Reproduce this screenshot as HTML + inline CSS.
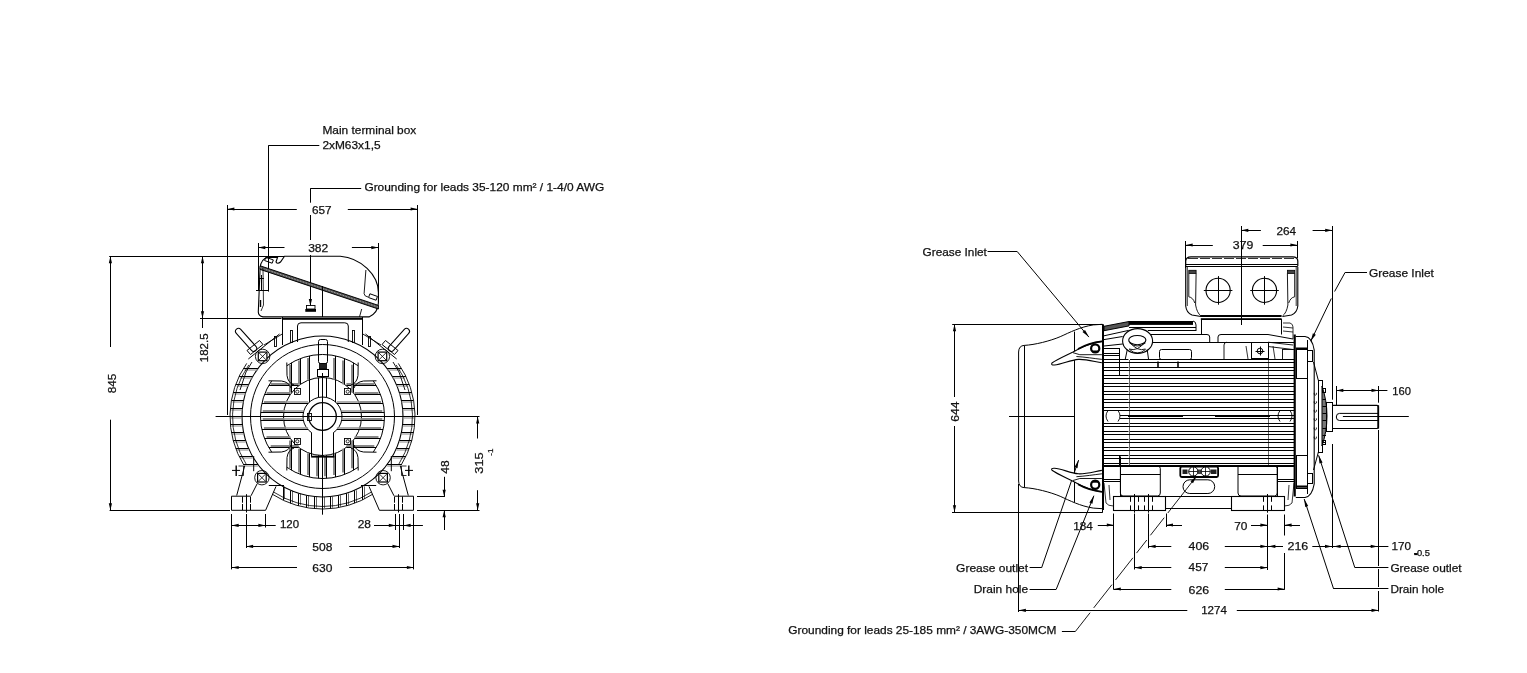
<!DOCTYPE html>
<html><head><meta charset="utf-8"><style>
html,body{margin:0;padding:0;background:#fff;}
svg{display:block;filter:grayscale(1);}
text{font-family:"Liberation Sans",sans-serif;fill:#111;stroke:#111;stroke-width:0.25px;}
</style></head><body>
<svg width="1527" height="673" viewBox="0 0 1527 673">
<rect width="1527" height="673" fill="#fff"/>
<g stroke="#000" fill="none" stroke-linecap="butt">
<text x="322.4" y="133.5" font-size="11.2" text-anchor="start" textLength="93.9" lengthAdjust="spacingAndGlyphs" >Main terminal box</text>
<text x="322.4" y="148.6" font-size="11.2" text-anchor="start" textLength="58.2" lengthAdjust="spacingAndGlyphs" >2xM63x1,5</text>
<line x1="268.3" y1="145.5" x2="319.3" y2="145.5" stroke-width="1.0" />
<line x1="268.5" y1="145.5" x2="268.5" y2="291.6" stroke-width="1.0" />
<text x="364.4" y="191.4" font-size="11.2" text-anchor="start" textLength="239.9" lengthAdjust="spacingAndGlyphs" >Grounding for leads 35-120 mm² / 1-4/0 AWG</text>
<line x1="310.4" y1="188.5" x2="361.2" y2="188.5" stroke-width="1.0" />
<line x1="310.5" y1="188.3" x2="310.5" y2="202.7" stroke-width="1.0" />
<line x1="310.5" y1="215.0" x2="310.5" y2="240.0" stroke-width="1.0" />
<line x1="310.5" y1="255.0" x2="310.5" y2="306.0" stroke-width="1.0" />
<polygon points="310.4,306.0 308.8,299.0 312.0,299.0" fill="#000" stroke="none"/>
<line x1="227.4" y1="209.5" x2="296.8" y2="209.5" stroke-width="1.0" />
<line x1="347.8" y1="209.5" x2="417.6" y2="209.5" stroke-width="1.0" />
<polygon points="227.4,209.0 234.4,207.4 234.4,210.6" fill="#000" stroke="none"/>
<polygon points="417.6,209.0 410.6,207.4 410.6,210.6" fill="#000" stroke="none"/>
<line x1="227.5" y1="205.0" x2="227.5" y2="415.0" stroke-width="1.0" />
<line x1="417.5" y1="205.0" x2="417.5" y2="415.0" stroke-width="1.0" />
<text x="321.8" y="213.8" font-size="11.3" text-anchor="middle" textLength="19.6" lengthAdjust="spacingAndGlyphs" >657</text>
<line x1="258.3" y1="247.5" x2="284.5" y2="247.5" stroke-width="1.0" />
<line x1="351.9" y1="247.5" x2="378.3" y2="247.5" stroke-width="1.0" />
<polygon points="258.3,247.6 265.3,246.0 265.3,249.2" fill="#000" stroke="none"/>
<polygon points="378.3,247.6 371.3,246.0 371.3,249.2" fill="#000" stroke="none"/>
<line x1="258.5" y1="243.0" x2="258.5" y2="290.0" stroke-width="1.0" />
<line x1="378.5" y1="243.0" x2="378.5" y2="302.0" stroke-width="1.0" />
<text x="318.2" y="251.9" font-size="11.3" text-anchor="middle" textLength="20.1" lengthAdjust="spacingAndGlyphs" >382</text>
<line x1="109.2" y1="256.5" x2="284.0" y2="256.5" stroke-width="1.0" />
<line x1="110.5" y1="256.2" x2="110.5" y2="347.0" stroke-width="1.0" />
<line x1="110.5" y1="419.7" x2="110.5" y2="510.3" stroke-width="1.0" />
<polygon points="110.4,256.2 108.8,263.2 112.0,263.2" fill="#000" stroke="none"/>
<polygon points="110.4,510.3 108.8,503.3 112.0,503.3" fill="#000" stroke="none"/>
<line x1="109.6" y1="510.5" x2="230.0" y2="510.5" stroke-width="1.0" />
<text x="115.8" y="383.4" font-size="11.3" text-anchor="middle" textLength="19.6" lengthAdjust="spacingAndGlyphs" transform="rotate(-90 115.8 383.4)" >845</text>
<line x1="202.5" y1="256.2" x2="202.5" y2="328.0" stroke-width="1.0" />
<polygon points="202.5,256.2 200.9,263.2 204.1,263.2" fill="#000" stroke="none"/>
<polygon points="202.5,318.2 200.9,311.2 204.1,311.2" fill="#000" stroke="none"/>
<line x1="200.0" y1="318.5" x2="281.5" y2="318.5" stroke-width="1.0" />
<text x="207.8" y="347.8" font-size="11.3" text-anchor="middle" textLength="28.7" lengthAdjust="spacingAndGlyphs" transform="rotate(-90 207.8 347.8)" >182.5</text>
<line x1="215.6" y1="416.5" x2="479.5" y2="416.5" stroke-width="1.0" />
<line x1="322.5" y1="373.0" x2="322.5" y2="514.7" stroke-width="1.0" />
<line x1="477.5" y1="416.6" x2="477.5" y2="438.5" stroke-width="1.0" />
<line x1="477.5" y1="490.2" x2="477.5" y2="510.3" stroke-width="1.0" />
<polygon points="477.7,416.6 476.1,423.6 479.3,423.6" fill="#000" stroke="none"/>
<polygon points="477.7,510.3 476.1,503.3 479.3,503.3" fill="#000" stroke="none"/>
<line x1="417.0" y1="510.5" x2="479.5" y2="510.5" stroke-width="1.0" />
<text x="483.0" y="463.0" font-size="11.3" text-anchor="middle" textLength="21.4" lengthAdjust="spacingAndGlyphs" transform="rotate(-90 483.0 463.0)" >315</text>
<text x="493.0" y="452.2" font-size="8" text-anchor="middle" transform="rotate(-90 493.0 452.2)" >-1</text>
<line x1="417.0" y1="496.5" x2="444.8" y2="496.5" stroke-width="1.0" />
<line x1="444.5" y1="476.8" x2="444.5" y2="496.8" stroke-width="1.0" />
<line x1="444.5" y1="510.3" x2="444.5" y2="530.0" stroke-width="1.0" />
<polygon points="444.2,496.8 442.6,489.8 445.8,489.8" fill="#000" stroke="none"/>
<polygon points="444.2,510.3 442.6,517.3 445.8,517.3" fill="#000" stroke="none"/>
<text x="448.6" y="467.0" font-size="11.3" text-anchor="middle" textLength="13.4" lengthAdjust="spacingAndGlyphs" transform="rotate(-90 448.6 467.0)" >48</text>
<line x1="231.7" y1="525.5" x2="275.7" y2="525.5" stroke-width="1.0" />
<polygon points="231.7,525.4 238.7,523.8 238.7,527.0" fill="#000" stroke="none"/>
<polygon points="265.4,525.4 258.4,523.8 258.4,527.0" fill="#000" stroke="none"/>
<line x1="231.5" y1="514.0" x2="231.5" y2="569.4" stroke-width="1.0" />
<line x1="246.5" y1="514.0" x2="246.5" y2="548.0" stroke-width="1.0" />
<line x1="265.5" y1="514.0" x2="265.5" y2="527.5" stroke-width="1.0" />
<text x="280.0" y="527.9" font-size="11.3" text-anchor="start" textLength="19.1" lengthAdjust="spacingAndGlyphs" >120</text>
<line x1="374.0" y1="525.5" x2="422.9" y2="525.5" stroke-width="1.0" />
<polygon points="395.8,525.4 388.8,523.8 388.8,527.0" fill="#000" stroke="none"/>
<polygon points="403.6,525.4 410.6,523.8 410.6,527.0" fill="#000" stroke="none"/>
<line x1="395.5" y1="514.0" x2="395.5" y2="530.0" stroke-width="1.0" />
<line x1="399.5" y1="514.0" x2="399.5" y2="548.0" stroke-width="1.0" />
<line x1="403.5" y1="514.0" x2="403.5" y2="530.0" stroke-width="1.0" />
<line x1="413.5" y1="514.0" x2="413.5" y2="569.4" stroke-width="1.0" />
<text x="357.7" y="527.6" font-size="11.3" text-anchor="start" textLength="13.3" lengthAdjust="spacingAndGlyphs" >28</text>
<line x1="246.1" y1="546.5" x2="297.0" y2="546.5" stroke-width="1.0" />
<line x1="349.3" y1="546.5" x2="399.5" y2="546.5" stroke-width="1.0" />
<polygon points="246.1,546.4 253.1,544.8 253.1,548.0" fill="#000" stroke="none"/>
<polygon points="399.5,546.4 392.5,544.8 392.5,548.0" fill="#000" stroke="none"/>
<text x="322.4" y="550.6" font-size="11.3" text-anchor="middle" textLength="20.1" lengthAdjust="spacingAndGlyphs" >508</text>
<line x1="231.7" y1="567.5" x2="297.0" y2="567.5" stroke-width="1.0" />
<line x1="349.3" y1="567.5" x2="413.9" y2="567.5" stroke-width="1.0" />
<polygon points="231.7,567.5 238.7,565.9 238.7,569.1" fill="#000" stroke="none"/>
<polygon points="413.9,567.5 406.9,565.9 406.9,569.1" fill="#000" stroke="none"/>
<text x="322.4" y="571.6" font-size="11.3" text-anchor="middle" textLength="20.1" lengthAdjust="spacingAndGlyphs" >630</text>
<circle cx="322.5" cy="416.5" r="80.5" stroke-width="1.1"/>
<circle cx="322.5" cy="416.5" r="72.0" stroke-width="1.0"/>
<circle cx="322.5" cy="416.5" r="39.0" stroke-width="1.0"/>
<path d="M311.6,432.7 A19.5,19.5 0 1 1 333.4,432.7" stroke-width="1.0" fill="none"/>
<circle cx="322.5" cy="416.5" r="13.8" stroke-width="1.3"/>
<path d="M271.7,452.1 A62,62 0 0 1 271.7,380.9" stroke-width="1.0" fill="none"/>
<path d="M373.3,380.9 A62,62 0 0 1 373.3,452.1" stroke-width="1.0" fill="none"/>
<path d="M286.9,365.7 A62,62 0 0 1 358.1,365.7" stroke-width="1.0" fill="none"/>
<path d="M358.1,467.3 A62,62 0 0 1 286.9,467.3" stroke-width="1.0" fill="none"/>
<line x1="298.6" y1="385.5" x2="268.7" y2="385.5" stroke-width="1.0" />
<line x1="298.6" y1="384.0" x2="270.7" y2="384.0" stroke="#888" stroke-width="2"/>
<line x1="346.4" y1="385.5" x2="376.3" y2="385.5" stroke-width="1.0" />
<line x1="346.4" y1="384.0" x2="374.3" y2="384.0" stroke="#888" stroke-width="2"/>
<line x1="290.3" y1="394.5" x2="264.5" y2="394.5" stroke-width="1.0" />
<line x1="290.3" y1="393.0" x2="266.5" y2="393.0" stroke="#888" stroke-width="2"/>
<line x1="354.7" y1="394.5" x2="380.5" y2="394.5" stroke-width="1.0" />
<line x1="354.7" y1="393.0" x2="378.5" y2="393.0" stroke="#888" stroke-width="2"/>
<line x1="285.8" y1="403.5" x2="261.9" y2="403.5" stroke-width="1.0" />
<line x1="285.8" y1="402.0" x2="263.9" y2="402.0" stroke="#888" stroke-width="2"/>
<line x1="308.1" y1="403.5" x2="285.8" y2="403.5" stroke-width="1.0" />
<line x1="308.1" y1="402.0" x2="285.8" y2="402.0" stroke="#999" stroke-width="1.6"/>
<line x1="359.2" y1="403.5" x2="383.1" y2="403.5" stroke-width="1.0" />
<line x1="359.2" y1="402.0" x2="381.1" y2="402.0" stroke="#888" stroke-width="2"/>
<line x1="336.9" y1="403.5" x2="359.2" y2="403.5" stroke-width="1.0" />
<line x1="336.9" y1="402.0" x2="359.2" y2="402.0" stroke="#999" stroke-width="1.6"/>
<line x1="283.7" y1="412.5" x2="260.7" y2="412.5" stroke-width="1.0" />
<line x1="283.7" y1="411.0" x2="262.7" y2="411.0" stroke="#888" stroke-width="2"/>
<line x1="303.5" y1="412.5" x2="283.7" y2="412.5" stroke-width="1.0" />
<line x1="303.5" y1="411.0" x2="283.7" y2="411.0" stroke="#999" stroke-width="1.6"/>
<line x1="361.3" y1="412.5" x2="384.3" y2="412.5" stroke-width="1.0" />
<line x1="361.3" y1="411.0" x2="382.3" y2="411.0" stroke="#888" stroke-width="2"/>
<line x1="341.5" y1="412.5" x2="361.3" y2="412.5" stroke-width="1.0" />
<line x1="341.5" y1="411.0" x2="361.3" y2="411.0" stroke="#999" stroke-width="1.6"/>
<line x1="283.7" y1="420.5" x2="260.7" y2="420.5" stroke-width="1.0" />
<line x1="283.7" y1="419.0" x2="262.7" y2="419.0" stroke="#888" stroke-width="2"/>
<line x1="303.5" y1="420.5" x2="283.7" y2="420.5" stroke-width="1.0" />
<line x1="303.5" y1="419.0" x2="283.7" y2="419.0" stroke="#999" stroke-width="1.6"/>
<line x1="361.3" y1="420.5" x2="384.3" y2="420.5" stroke-width="1.0" />
<line x1="361.3" y1="419.0" x2="382.3" y2="419.0" stroke="#888" stroke-width="2"/>
<line x1="341.5" y1="420.5" x2="361.3" y2="420.5" stroke-width="1.0" />
<line x1="341.5" y1="419.0" x2="361.3" y2="419.0" stroke="#999" stroke-width="1.6"/>
<line x1="285.8" y1="429.5" x2="261.9" y2="429.5" stroke-width="1.0" />
<line x1="285.8" y1="428.0" x2="263.9" y2="428.0" stroke="#888" stroke-width="2"/>
<line x1="308.1" y1="429.5" x2="285.8" y2="429.5" stroke-width="1.0" />
<line x1="308.1" y1="428.0" x2="285.8" y2="428.0" stroke="#999" stroke-width="1.6"/>
<line x1="359.2" y1="429.5" x2="383.1" y2="429.5" stroke-width="1.0" />
<line x1="359.2" y1="428.0" x2="381.1" y2="428.0" stroke="#888" stroke-width="2"/>
<line x1="336.9" y1="429.5" x2="359.2" y2="429.5" stroke-width="1.0" />
<line x1="336.9" y1="428.0" x2="359.2" y2="428.0" stroke="#999" stroke-width="1.6"/>
<line x1="290.3" y1="438.5" x2="264.5" y2="438.5" stroke-width="1.0" />
<line x1="290.3" y1="437.0" x2="266.5" y2="437.0" stroke="#888" stroke-width="2"/>
<line x1="354.7" y1="438.5" x2="380.5" y2="438.5" stroke-width="1.0" />
<line x1="354.7" y1="437.0" x2="378.5" y2="437.0" stroke="#888" stroke-width="2"/>
<line x1="298.6" y1="447.5" x2="268.7" y2="447.5" stroke-width="1.0" />
<line x1="298.6" y1="446.0" x2="270.7" y2="446.0" stroke="#888" stroke-width="2"/>
<line x1="346.4" y1="447.5" x2="376.3" y2="447.5" stroke-width="1.0" />
<line x1="346.4" y1="446.0" x2="374.3" y2="446.0" stroke="#888" stroke-width="2"/>
<line x1="291.5" y1="392.6" x2="291.5" y2="362.7" stroke-width="1.0" />
<line x1="290.0" y1="392.6" x2="290.0" y2="364.7" stroke="#888" stroke-width="2"/>
<line x1="291.5" y1="440.4" x2="291.5" y2="470.3" stroke-width="1.0" />
<line x1="290.0" y1="440.4" x2="290.0" y2="468.3" stroke="#888" stroke-width="2"/>
<line x1="300.5" y1="384.3" x2="300.5" y2="358.5" stroke-width="1.0" />
<line x1="299.0" y1="384.3" x2="299.0" y2="360.5" stroke="#888" stroke-width="2"/>
<line x1="300.5" y1="448.7" x2="300.5" y2="474.5" stroke-width="1.0" />
<line x1="299.0" y1="448.7" x2="299.0" y2="472.5" stroke="#888" stroke-width="2"/>
<line x1="309.5" y1="379.8" x2="309.5" y2="355.9" stroke-width="1.0" />
<line x1="308.0" y1="379.8" x2="308.0" y2="357.9" stroke="#888" stroke-width="2"/>
<line x1="309.5" y1="402.1" x2="309.5" y2="379.8" stroke-width="1.0" />
<line x1="309.5" y1="453.2" x2="309.5" y2="477.1" stroke-width="1.0" />
<line x1="308.0" y1="453.2" x2="308.0" y2="475.1" stroke="#888" stroke-width="2"/>
<line x1="318.5" y1="397.5" x2="318.5" y2="377.7" stroke-width="1.0" />
<line x1="318.5" y1="455.3" x2="318.5" y2="478.3" stroke-width="1.0" />
<line x1="317.0" y1="455.3" x2="317.0" y2="476.3" stroke="#888" stroke-width="2"/>
<line x1="326.5" y1="397.5" x2="326.5" y2="377.7" stroke-width="1.0" />
<line x1="326.5" y1="455.3" x2="326.5" y2="478.3" stroke-width="1.0" />
<line x1="325.0" y1="455.3" x2="325.0" y2="476.3" stroke="#888" stroke-width="2"/>
<line x1="335.5" y1="379.8" x2="335.5" y2="355.9" stroke-width="1.0" />
<line x1="334.0" y1="379.8" x2="334.0" y2="357.9" stroke="#888" stroke-width="2"/>
<line x1="335.5" y1="402.1" x2="335.5" y2="379.8" stroke-width="1.0" />
<line x1="335.5" y1="453.2" x2="335.5" y2="477.1" stroke-width="1.0" />
<line x1="334.0" y1="453.2" x2="334.0" y2="475.1" stroke="#888" stroke-width="2"/>
<line x1="344.5" y1="384.3" x2="344.5" y2="358.5" stroke-width="1.0" />
<line x1="343.0" y1="384.3" x2="343.0" y2="360.5" stroke="#888" stroke-width="2"/>
<line x1="344.5" y1="448.7" x2="344.5" y2="474.5" stroke-width="1.0" />
<line x1="343.0" y1="448.7" x2="343.0" y2="472.5" stroke="#888" stroke-width="2"/>
<line x1="353.5" y1="392.6" x2="353.5" y2="362.7" stroke-width="1.0" />
<line x1="352.0" y1="392.6" x2="352.0" y2="364.7" stroke="#888" stroke-width="2"/>
<line x1="353.5" y1="440.4" x2="353.5" y2="470.3" stroke-width="1.0" />
<line x1="352.0" y1="440.4" x2="352.0" y2="468.3" stroke="#888" stroke-width="2"/>
<path d="M376.5,452.2 L363.5,452.0 Q356.0,451.0 354.0,445.0" stroke-width="1.0" fill="none"/>
<path d="M358.2,470.5 L358.0,457.5 Q357.0,450.0 351.0,448.0" stroke-width="1.0" fill="none"/>
<path d="M376.5,380.8 L363.5,381.0 Q356.0,382.0 354.0,388.0" stroke-width="1.0" fill="none"/>
<path d="M358.2,362.5 L358.0,375.5 Q357.0,383.0 351.0,385.0" stroke-width="1.0" fill="none"/>
<path d="M268.5,452.2 L281.5,452.0 Q289.0,451.0 291.0,445.0" stroke-width="1.0" fill="none"/>
<path d="M286.8,470.5 L287.0,457.5 Q288.0,450.0 294.0,448.0" stroke-width="1.0" fill="none"/>
<path d="M268.5,380.8 L281.5,381.0 Q289.0,382.0 291.0,388.0" stroke-width="1.0" fill="none"/>
<path d="M286.8,362.5 L287.0,375.5 Q288.0,383.0 294.0,385.0" stroke-width="1.0" fill="none"/>
<rect x="294.5" y="388.5" width="6.0" height="6.0" rx="0" stroke-width="0.9"/>
<circle cx="297.3" cy="391.7" r="1.6" stroke-width="0.8"/>
<rect x="294.5" y="438.5" width="6.0" height="6.0" rx="0" stroke-width="0.9"/>
<circle cx="297.3" cy="441.3" r="1.6" stroke-width="0.8"/>
<rect x="344.5" y="388.5" width="6.0" height="6.0" rx="0" stroke-width="0.9"/>
<circle cx="347.7" cy="391.7" r="1.6" stroke-width="0.8"/>
<rect x="344.5" y="438.5" width="6.0" height="6.0" rx="0" stroke-width="0.9"/>
<circle cx="347.7" cy="441.3" r="1.6" stroke-width="0.8"/>
<rect x="318.5" y="339.5" width="9.0" height="24.0" rx="2" stroke-width="1.0"/>
<rect x="319.5" y="363.5" width="7" height="5.5" fill="#222" stroke="#000" stroke-width="0.8"/>
<rect x="317.5" y="369.5" width="11.0" height="7.0" rx="0" stroke-width="1.0"/>
<rect x="307.5" y="413.5" width="4.0" height="7.0" rx="0" stroke-width="0.9"/>
<line x1="311.5" y1="432.5" x2="311.5" y2="456.5" stroke-width="1.0" />
<line x1="333.5" y1="432.5" x2="333.5" y2="456.5" stroke-width="1.0" />
<rect x="311.2" y="455.8" width="23.2" height="1.8" fill="#000" stroke="none"/>
<line x1="243.4" y1="368.5" x2="257.9" y2="368.5" stroke-width="1.0" />
<line x1="244.4" y1="370.0" x2="257.9" y2="370.0" stroke="#999" stroke-width="1.2"/>
<line x1="401.6" y1="368.5" x2="387.1" y2="368.5" stroke-width="1.0" />
<line x1="400.6" y1="370.0" x2="387.1" y2="370.0" stroke="#999" stroke-width="1.2"/>
<line x1="239.1" y1="376.5" x2="252.6" y2="376.5" stroke-width="1.0" />
<line x1="240.1" y1="378.0" x2="252.6" y2="378.0" stroke="#999" stroke-width="1.2"/>
<line x1="405.9" y1="376.5" x2="392.4" y2="376.5" stroke-width="1.0" />
<line x1="404.9" y1="378.0" x2="392.4" y2="378.0" stroke="#999" stroke-width="1.2"/>
<line x1="235.7" y1="384.5" x2="248.6" y2="384.5" stroke-width="1.0" />
<line x1="236.7" y1="386.0" x2="248.6" y2="386.0" stroke="#999" stroke-width="1.2"/>
<line x1="409.3" y1="384.5" x2="396.4" y2="384.5" stroke-width="1.0" />
<line x1="408.3" y1="386.0" x2="396.4" y2="386.0" stroke="#999" stroke-width="1.2"/>
<line x1="233.2" y1="392.5" x2="245.7" y2="392.5" stroke-width="1.0" />
<line x1="234.2" y1="394.0" x2="245.7" y2="394.0" stroke="#999" stroke-width="1.2"/>
<line x1="411.8" y1="392.5" x2="399.3" y2="392.5" stroke-width="1.0" />
<line x1="410.8" y1="394.0" x2="399.3" y2="394.0" stroke="#999" stroke-width="1.2"/>
<line x1="231.4" y1="400.5" x2="243.6" y2="400.5" stroke-width="1.0" />
<line x1="232.4" y1="402.0" x2="243.6" y2="402.0" stroke="#999" stroke-width="1.2"/>
<line x1="413.6" y1="400.5" x2="401.4" y2="400.5" stroke-width="1.0" />
<line x1="412.6" y1="402.0" x2="401.4" y2="402.0" stroke="#999" stroke-width="1.2"/>
<line x1="230.3" y1="408.5" x2="242.4" y2="408.5" stroke-width="1.0" />
<line x1="231.3" y1="410.0" x2="242.4" y2="410.0" stroke="#999" stroke-width="1.2"/>
<line x1="414.7" y1="408.5" x2="402.6" y2="408.5" stroke-width="1.0" />
<line x1="413.7" y1="410.0" x2="402.6" y2="410.0" stroke="#999" stroke-width="1.2"/>
<line x1="230.0" y1="416.5" x2="242.0" y2="416.5" stroke-width="1.0" />
<line x1="231.0" y1="418.0" x2="242.0" y2="418.0" stroke="#999" stroke-width="1.2"/>
<line x1="415.0" y1="416.5" x2="403.0" y2="416.5" stroke-width="1.0" />
<line x1="414.0" y1="418.0" x2="403.0" y2="418.0" stroke="#999" stroke-width="1.2"/>
<line x1="230.3" y1="424.5" x2="242.4" y2="424.5" stroke-width="1.0" />
<line x1="231.3" y1="426.0" x2="242.4" y2="426.0" stroke="#999" stroke-width="1.2"/>
<line x1="414.7" y1="424.5" x2="402.6" y2="424.5" stroke-width="1.0" />
<line x1="413.7" y1="426.0" x2="402.6" y2="426.0" stroke="#999" stroke-width="1.2"/>
<line x1="231.4" y1="432.5" x2="243.6" y2="432.5" stroke-width="1.0" />
<line x1="232.4" y1="434.0" x2="243.6" y2="434.0" stroke="#999" stroke-width="1.2"/>
<line x1="413.6" y1="432.5" x2="401.4" y2="432.5" stroke-width="1.0" />
<line x1="412.6" y1="434.0" x2="401.4" y2="434.0" stroke="#999" stroke-width="1.2"/>
<line x1="233.2" y1="440.5" x2="245.7" y2="440.5" stroke-width="1.0" />
<line x1="234.2" y1="442.0" x2="245.7" y2="442.0" stroke="#999" stroke-width="1.2"/>
<line x1="411.8" y1="440.5" x2="399.3" y2="440.5" stroke-width="1.0" />
<line x1="410.8" y1="442.0" x2="399.3" y2="442.0" stroke="#999" stroke-width="1.2"/>
<line x1="235.7" y1="448.5" x2="248.6" y2="448.5" stroke-width="1.0" />
<line x1="236.7" y1="450.0" x2="248.6" y2="450.0" stroke="#999" stroke-width="1.2"/>
<line x1="409.3" y1="448.5" x2="396.4" y2="448.5" stroke-width="1.0" />
<line x1="408.3" y1="450.0" x2="396.4" y2="450.0" stroke="#999" stroke-width="1.2"/>
<line x1="239.1" y1="456.5" x2="252.6" y2="456.5" stroke-width="1.0" />
<line x1="240.1" y1="458.0" x2="252.6" y2="458.0" stroke="#999" stroke-width="1.2"/>
<line x1="405.9" y1="456.5" x2="392.4" y2="456.5" stroke-width="1.0" />
<line x1="404.9" y1="458.0" x2="392.4" y2="458.0" stroke="#999" stroke-width="1.2"/>
<line x1="243.4" y1="464.5" x2="257.9" y2="464.5" stroke-width="1.0" />
<line x1="244.4" y1="466.0" x2="257.9" y2="466.0" stroke="#999" stroke-width="1.2"/>
<line x1="401.6" y1="464.5" x2="387.1" y2="464.5" stroke-width="1.0" />
<line x1="400.6" y1="466.0" x2="387.1" y2="466.0" stroke="#999" stroke-width="1.2"/>
<path d="M244.1,465.5 A92.5,92.5 0 0 1 246.7,363.4" stroke-width="0.9" fill="none"/>
<path d="M246.2,464.2 A90.0,90.0 0 0 1 248.8,364.9" stroke-width="0.8" fill="none"/>
<path d="M398.3,363.4 A92.5,92.5 0 0 1 400.9,465.5" stroke-width="0.9" fill="none"/>
<path d="M396.2,364.9 A90.0,90.0 0 0 1 398.8,464.2" stroke-width="0.8" fill="none"/>
<path d="M372.9,494.1 A92.5,92.5 0 0 1 272.1,494.1" stroke-width="0.9" fill="none"/>
<path d="M371.5,492.0 A90.0,90.0 0 0 1 273.5,492.0" stroke-width="0.8" fill="none"/>
<line x1="283.5" y1="486.6" x2="283.5" y2="500.1" stroke-width="1.0" />
<line x1="284.5" y1="486.6" x2="284.5" y2="499.1" stroke-width="0.6" />
<line x1="290.5" y1="490.6" x2="290.5" y2="503.5" stroke-width="1.0" />
<line x1="292.5" y1="490.6" x2="292.5" y2="502.5" stroke-width="0.6" />
<line x1="298.5" y1="493.5" x2="298.5" y2="505.9" stroke-width="1.0" />
<line x1="300.5" y1="493.5" x2="300.5" y2="504.9" stroke-width="0.6" />
<line x1="306.5" y1="495.5" x2="306.5" y2="507.7" stroke-width="1.0" />
<line x1="308.5" y1="495.5" x2="308.5" y2="506.7" stroke-width="0.6" />
<line x1="314.5" y1="496.6" x2="314.5" y2="508.7" stroke-width="1.0" />
<line x1="316.5" y1="496.6" x2="316.5" y2="507.7" stroke-width="0.6" />
<line x1="322.5" y1="497.0" x2="322.5" y2="509.0" stroke-width="1.0" />
<line x1="324.5" y1="497.0" x2="324.5" y2="508.0" stroke-width="0.6" />
<line x1="330.5" y1="496.6" x2="330.5" y2="508.6" stroke-width="1.0" />
<line x1="332.5" y1="496.6" x2="332.5" y2="507.6" stroke-width="0.6" />
<line x1="338.5" y1="495.3" x2="338.5" y2="507.6" stroke-width="1.0" />
<line x1="340.5" y1="495.3" x2="340.5" y2="506.6" stroke-width="0.6" />
<line x1="346.5" y1="493.3" x2="346.5" y2="505.8" stroke-width="1.0" />
<line x1="348.5" y1="493.3" x2="348.5" y2="504.8" stroke-width="0.6" />
<line x1="354.5" y1="490.3" x2="354.5" y2="503.2" stroke-width="1.0" />
<line x1="356.5" y1="490.3" x2="356.5" y2="502.2" stroke-width="0.6" />
<line x1="362.5" y1="486.3" x2="362.5" y2="499.9" stroke-width="1.0" />
<line x1="364.5" y1="486.3" x2="364.5" y2="498.9" stroke-width="0.6" />
<polyline points="231.5,510.3 231.5,496.2 250.5,496.2" stroke-width="1.0"/>
<polyline points="231.5,510.3 265.6,510.3 276.0,486.4" stroke-width="1.0"/>
<polyline points="268.8,485.5 284.0,485.5" stroke-width="1.0"/>
<polyline points="236.7,495.5 244.7,465.9" stroke-width="1.0"/>
<polyline points="251.0,495.8 257.2,483.7" stroke-width="1.0"/>
<polyline points="253.7,456.0 253.7,471.2" stroke-width="1.0"/>
<line x1="242.5" y1="496.5" x2="242.5" y2="502.7" stroke-width="1.0" />
<line x1="242.5" y1="504.0" x2="242.5" y2="510.0" stroke-width="1.0" />
<line x1="250.5" y1="496.5" x2="250.5" y2="502.7" stroke-width="1.0" />
<line x1="250.5" y1="504.0" x2="250.5" y2="510.0" stroke-width="1.0" />
<line x1="246.5" y1="494.2" x2="246.5" y2="512.5" stroke-width="1.0" />
<polyline points="236.2,465.5 236.2,476.0" stroke-width="1.4"/>
<polyline points="232.0,470.4 240.0,470.4" stroke-width="1.0"/>
<path d="M238.5,466.0 243.5,466.0 243.5,475.5 238.5,475.5" stroke-width="0.8" fill="none"/>
<circle cx="262.6" cy="356.4" r="7.2" stroke-width="0.9"/>
<rect x="258.3" y="352.1" width="8.6" height="8.6" stroke-width="1.2" fill="#fff"/>
<line x1="259.0" y1="352.8" x2="266.2" y2="360.0" stroke-width="0.8" />
<line x1="259.0" y1="360.0" x2="266.2" y2="352.8" stroke-width="0.8" />
<circle cx="261.9" cy="477.7" r="7.2" stroke-width="0.9"/>
<rect x="257.6" y="473.4" width="8.6" height="8.6" stroke-width="1.2" fill="#fff"/>
<line x1="258.3" y1="474.1" x2="265.5" y2="481.3" stroke-width="0.8" />
<line x1="258.3" y1="481.3" x2="265.5" y2="474.1" stroke-width="0.8" />
<line x1="238.5" y1="331.4" x2="253.7" y2="348.3" stroke-width="7.0" stroke-linecap="round"/>
<line x1="238.5" y1="331.4" x2="253.7" y2="348.3" stroke-width="4.9" stroke="#fff" stroke-linecap="round"/>
<polygon points="247.0,350.5 259.5,340.5 263.0,344.5 250.5,354.5" stroke-width="1.0"/>
<polyline points="248.3,359.0 279.5,334.0" stroke-width="1.0"/>
<polyline points="264.0,345.0 283.0,333.5" stroke-width="0.9"/>
<polyline points="252.0,362.0 246.0,372.0 240.0,390.0" stroke-width="0.9"/>
<rect x="290.5" y="330.5" width="2.0" height="12.0" rx="0" stroke-width="0.9"/>
<rect x="274.5" y="336.5" width="2.0" height="10.0" rx="0" stroke-width="0.9"/>
<polyline points="413.5,510.3 413.5,496.2 394.5,496.2" stroke-width="1.0"/>
<polyline points="413.5,510.3 379.4,510.3 369.0,486.4" stroke-width="1.0"/>
<polyline points="376.2,485.5 361.0,485.5" stroke-width="1.0"/>
<polyline points="408.3,495.5 400.3,465.9" stroke-width="1.0"/>
<polyline points="394.0,495.8 387.8,483.7" stroke-width="1.0"/>
<polyline points="391.3,456.0 391.3,471.2" stroke-width="1.0"/>
<line x1="402.5" y1="496.5" x2="402.5" y2="502.7" stroke-width="1.0" />
<line x1="402.5" y1="504.0" x2="402.5" y2="510.0" stroke-width="1.0" />
<line x1="394.5" y1="496.5" x2="394.5" y2="502.7" stroke-width="1.0" />
<line x1="394.5" y1="504.0" x2="394.5" y2="510.0" stroke-width="1.0" />
<line x1="398.5" y1="494.2" x2="398.5" y2="512.5" stroke-width="1.0" />
<polyline points="408.8,465.5 408.8,476.0" stroke-width="1.4"/>
<polyline points="413.0,470.4 405.0,470.4" stroke-width="1.0"/>
<path d="M406.5,466.0 401.5,466.0 401.5,475.5 406.5,475.5" stroke-width="0.8" fill="none"/>
<circle cx="382.4" cy="356.4" r="7.2" stroke-width="0.9"/>
<rect x="378.1" y="352.1" width="8.6" height="8.6" stroke-width="1.2" fill="#fff"/>
<line x1="378.8" y1="352.8" x2="386.0" y2="360.0" stroke-width="0.8" />
<line x1="378.8" y1="360.0" x2="386.0" y2="352.8" stroke-width="0.8" />
<circle cx="383.1" cy="477.7" r="7.2" stroke-width="0.9"/>
<rect x="378.8" y="473.4" width="8.6" height="8.6" stroke-width="1.2" fill="#fff"/>
<line x1="379.5" y1="474.1" x2="386.7" y2="481.3" stroke-width="0.8" />
<line x1="379.5" y1="481.3" x2="386.7" y2="474.1" stroke-width="0.8" />
<line x1="406.5" y1="331.4" x2="391.3" y2="348.3" stroke-width="7.0" stroke-linecap="round"/>
<line x1="406.5" y1="331.4" x2="391.3" y2="348.3" stroke-width="4.9" stroke="#fff" stroke-linecap="round"/>
<polygon points="398.0,350.5 385.5,340.5 382.0,344.5 394.5,354.5" stroke-width="1.0"/>
<polyline points="396.7,359.0 365.5,334.0" stroke-width="1.0"/>
<polyline points="381.0,345.0 362.0,333.5" stroke-width="0.9"/>
<polyline points="393.0,362.0 399.0,372.0 405.0,390.0" stroke-width="0.9"/>
<rect x="352.5" y="330.5" width="2.0" height="12.0" rx="0" stroke-width="0.9"/>
<rect x="368.5" y="336.5" width="2.0" height="10.0" rx="0" stroke-width="0.9"/>
<line x1="282.5" y1="317.0" x2="282.5" y2="345.0" stroke-width="1.0" />
<line x1="362.5" y1="317.0" x2="362.5" y2="345.0" stroke-width="1.0" />
<path d="M297.5,342 L297.5,326 Q297.5,322.8 301,322.8 L344.8,322.8 Q348.3,322.8 348.3,326 L348.3,342" stroke-width="1.0" fill="none"/>
<path d="M263,316.9 Q258.3,316 258.3,312 L260.1,268 Q261,258.5 268,257.5 L277.5,257.5 L276,262 Q277.5,264.5 280.5,262 L284.5,256.3 L340.3,256.3 C361,258 378.4,275 378.4,292.5 L378.4,303 Q378,313 369,316.9 Z" stroke-width="1.1" fill="none"/>
<polygon points="260.1,265.8 378.4,305.4 378.4,309 260.1,269.4" fill="#555" stroke="#000" stroke-width="1"/>
<line x1="260.1" y1="267.6" x2="378.4" y2="307.2" stroke-width="0.6" stroke="#ccc" stroke-dasharray="1.5 1.5"/>
<rect x="282.7" y="317.8" width="79.6" height="2" fill="#000" stroke="none"/>
<path d="M365.9,270 L364.1,293.7 Q364.5,296.5 368,297" stroke-width="0.9" fill="none"/>
<path d="M361.7,309 L359.5,316.9" stroke-width="0.9" fill="none"/>
<rect x="369" y="295" width="8" height="4" transform="rotate(19.5 373 297)" stroke-width="0.9"/>
<rect x="265" y="258.5" width="8" height="3.5" transform="rotate(19.5 269 260.2)" stroke-width="0.9"/>
<line x1="256.0" y1="290.5" x2="269.0" y2="290.5" stroke-width="1.0" />
<line x1="261.5" y1="275.0" x2="261.5" y2="290.0" stroke-width="1.0" />
<line x1="259.0" y1="278.5" x2="264.0" y2="278.5" stroke-width="1.0" />
<path d="M263,268 L263.5,305 L261,311" stroke-width="0.8" fill="none"/>
<line x1="260.5" y1="300.0" x2="260.5" y2="307.0" stroke-width="1.4" />
<line x1="322.5" y1="286.0" x2="322.5" y2="317.0" stroke-width="1.0" />
<rect x="306.5" y="305.5" width="8.5" height="3.5" fill="#fff" stroke-width="0.9"/>
<rect x="305.3" y="309" width="10.7" height="2.8" fill="#000" stroke="none"/>
<text x="922.6" y="255.9" font-size="11.2" text-anchor="start" textLength="64.3" lengthAdjust="spacingAndGlyphs" >Grease Inlet</text>
<line x1="987.6" y1="251.5" x2="1017.0" y2="251.5" stroke-width="1.0" />
<line x1="1017.0" y1="251.3" x2="1088.9" y2="337.1" stroke-width="1.0" />
<polygon points="1088.9,337.1 1082.5,332.0 1085.0,329.9" fill="#000" stroke="none"/>
<text x="1369.0" y="277.1" font-size="11.2" text-anchor="start" textLength="64.9" lengthAdjust="spacingAndGlyphs" >Grease Inlet</text>
<line x1="1345.1" y1="272.5" x2="1367.0" y2="272.5" stroke-width="1.0" />
<line x1="1345.1" y1="272.4" x2="1334.6" y2="291.5" stroke-width="1.0" />
<line x1="1331.3" y1="298.5" x2="1310.8" y2="341.1" stroke-width="1.0" />
<polygon points="1310.8,341.1 1312.9,333.2 1315.8,334.7" fill="#000" stroke="none"/>
<text x="956.1" y="571.8" font-size="11.2" text-anchor="start" textLength="72.0" lengthAdjust="spacingAndGlyphs" >Grease outlet</text>
<line x1="1029.6" y1="567.5" x2="1041.6" y2="567.5" stroke-width="1.0" />
<line x1="1041.6" y1="567.8" x2="1078.6" y2="460.1" stroke-width="1.0" />
<polygon points="1078.6,460.1 1077.5,468.2 1074.5,467.1" fill="#000" stroke="none"/>
<text x="973.7" y="593.2" font-size="11.2" text-anchor="start" textLength="54.4" lengthAdjust="spacingAndGlyphs" >Drain hole</text>
<line x1="1029.6" y1="589.5" x2="1056.3" y2="589.5" stroke-width="1.0" />
<line x1="1056.3" y1="589.1" x2="1093.9" y2="495.7" stroke-width="1.0" />
<polygon points="1093.9,495.7 1092.4,503.7 1089.4,502.5" fill="#000" stroke="none"/>
<text x="1390.4" y="571.6" font-size="11.2" text-anchor="start" textLength="71.2" lengthAdjust="spacingAndGlyphs" >Grease outlet</text>
<line x1="1388.4" y1="567.5" x2="1354.8" y2="567.5" stroke-width="1.0" />
<line x1="1354.8" y1="567.6" x2="1318.6" y2="455.3" stroke-width="1.0" />
<polygon points="1318.6,455.3 1322.6,462.4 1319.5,463.4" fill="#000" stroke="none"/>
<text x="1390.4" y="592.6" font-size="11.2" text-anchor="start" textLength="53.7" lengthAdjust="spacingAndGlyphs" >Drain hole</text>
<line x1="1388.4" y1="588.5" x2="1333.6" y2="588.5" stroke-width="1.0" />
<line x1="1333.6" y1="588.9" x2="1304.2" y2="499.0" stroke-width="1.0" />
<polygon points="1304.2,499.0 1308.2,506.1 1305.2,507.1" fill="#000" stroke="none"/>
<text x="788.3" y="634.3" font-size="11.2" text-anchor="start" textLength="268.1" lengthAdjust="spacingAndGlyphs" >Grounding for leads 25-185 mm² / 3AWG-350MCM</text>
<line x1="1061.9" y1="631.5" x2="1075.2" y2="631.5" stroke-width="1.0" />
<line x1="1075.2" y1="631.7" x2="1090.1" y2="612.7" stroke-width="0.9" />
<line x1="1093.7" y1="607.9" x2="1112.0" y2="584.6" stroke-width="0.9" />
<line x1="1115.6" y1="579.9" x2="1132.9" y2="557.8" stroke-width="0.9" />
<line x1="1136.5" y1="553.1" x2="1146.8" y2="540.0" stroke-width="0.9" />
<line x1="1150.4" y1="535.3" x2="1164.2" y2="517.7" stroke-width="0.9" />
<line x1="1167.8" y1="513.0" x2="1196.7" y2="476.0" stroke-width="0.9" />
<polygon points="1196.7,476.0 1193.0,483.3 1190.5,481.3" fill="#000" stroke="none"/>
<line x1="952.2" y1="324.5" x2="1102.8" y2="324.5" stroke-width="1.0" />
<line x1="952.0" y1="512.5" x2="1102.8" y2="512.5" stroke-width="1.0" />
<line x1="954.5" y1="324.3" x2="954.5" y2="397.0" stroke-width="1.0" />
<line x1="954.5" y1="426.0" x2="954.5" y2="512.3" stroke-width="1.0" />
<polygon points="954.5,324.3 952.9,331.3 956.1,331.3" fill="#000" stroke="none"/>
<polygon points="954.5,512.3 952.9,505.3 956.1,505.3" fill="#000" stroke="none"/>
<text x="959.2" y="411.5" font-size="11.3" text-anchor="middle" textLength="20.3" lengthAdjust="spacingAndGlyphs" transform="rotate(-90 959.2 411.5)" >644</text>
<line x1="1185.7" y1="245.5" x2="1212.8" y2="245.5" stroke-width="1.0" />
<line x1="1262.7" y1="245.5" x2="1297.4" y2="245.5" stroke-width="1.0" />
<polygon points="1185.7,245.0 1192.7,243.4 1192.7,246.6" fill="#000" stroke="none"/>
<polygon points="1297.4,245.0 1290.4,243.4 1290.4,246.6" fill="#000" stroke="none"/>
<line x1="1185.5" y1="241.0" x2="1185.5" y2="268.0" stroke-width="1.0" />
<line x1="1297.5" y1="241.0" x2="1297.5" y2="258.0" stroke-width="1.0" />
<text x="1232.8" y="248.5" font-size="11.3" text-anchor="start" textLength="20.5" lengthAdjust="spacingAndGlyphs" >379</text>
<line x1="1241.3" y1="230.5" x2="1260.9" y2="230.5" stroke-width="1.0" />
<line x1="1312.6" y1="230.5" x2="1332.2" y2="230.5" stroke-width="1.0" />
<polygon points="1241.3,230.3 1248.3,228.7 1248.3,231.9" fill="#000" stroke="none"/>
<polygon points="1332.2,230.3 1325.2,228.7 1325.2,231.9" fill="#000" stroke="none"/>
<line x1="1241.5" y1="226.0" x2="1241.5" y2="325.0" stroke-width="1.0" />
<line x1="1332.5" y1="226.0" x2="1332.5" y2="399.7" stroke-width="1.0" />
<line x1="1332.5" y1="444.0" x2="1332.5" y2="548.0" stroke-width="1.0" />
<text x="1276.4" y="234.6" font-size="11.3" text-anchor="start" textLength="19.6" lengthAdjust="spacingAndGlyphs" >264</text>
<line x1="1336.3" y1="390.5" x2="1387.4" y2="390.5" stroke-width="1.0" />
<polygon points="1336.3,390.4 1343.3,388.8 1343.3,392.0" fill="#000" stroke="none"/>
<polygon points="1378.5,390.4 1371.5,388.8 1371.5,392.0" fill="#000" stroke="none"/>
<line x1="1336.5" y1="386.0" x2="1336.5" y2="405.0" stroke-width="1.0" />
<line x1="1378.5" y1="386.0" x2="1378.5" y2="402.7" stroke-width="1.0" />
<line x1="1378.5" y1="430.0" x2="1378.5" y2="566.0" stroke-width="1.0" />
<line x1="1378.5" y1="569.0" x2="1378.5" y2="587.0" stroke-width="1.0" />
<line x1="1378.5" y1="591.0" x2="1378.5" y2="611.5" stroke-width="1.0" />
<text x="1392.3" y="394.7" font-size="11.3" text-anchor="start" textLength="18.7" lengthAdjust="spacingAndGlyphs" >160</text>
<text x="1073.2" y="530.0" font-size="11.3" text-anchor="start" textLength="19.6" lengthAdjust="spacingAndGlyphs" >184</text>
<line x1="1097.8" y1="525.5" x2="1113.8" y2="525.5" stroke-width="1.0" />
<polygon points="1113.8,525.0 1106.8,523.4 1106.8,526.6" fill="#000" stroke="none"/>
<line x1="1166.0" y1="525.5" x2="1182.0" y2="525.5" stroke-width="1.0" />
<polygon points="1166.0,525.0 1173.0,523.4 1173.0,526.6" fill="#000" stroke="none"/>
<line x1="1113.5" y1="513.5" x2="1113.5" y2="589.7" stroke-width="1.0" />
<line x1="1166.5" y1="513.5" x2="1166.5" y2="527.0" stroke-width="1.0" />
<text x="1234.2" y="529.7" font-size="11.3" text-anchor="start" textLength="13.2" lengthAdjust="spacingAndGlyphs" >70</text>
<line x1="1251.0" y1="525.5" x2="1267.4" y2="525.5" stroke-width="1.0" />
<polygon points="1267.4,525.1 1260.4,523.5 1260.4,526.7" fill="#000" stroke="none"/>
<line x1="1284.6" y1="525.5" x2="1300.0" y2="525.5" stroke-width="1.0" />
<polygon points="1284.6,525.1 1291.6,523.5 1291.6,526.7" fill="#000" stroke="none"/>
<line x1="1267.5" y1="514.5" x2="1267.5" y2="570.0" stroke-width="1.0" />
<line x1="1284.5" y1="514.5" x2="1284.5" y2="535.5" stroke-width="1.0" />
<line x1="1284.5" y1="553.0" x2="1284.5" y2="589.7" stroke-width="1.0" />
<polygon points="1268.4,546.4 1275.4,544.8 1275.4,548.0" fill="#000" stroke="none"/>
<line x1="1148.5" y1="513.5" x2="1148.5" y2="548.2" stroke-width="1.0" />
<line x1="1134.5" y1="513.5" x2="1134.5" y2="569.5" stroke-width="1.0" />
<line x1="1148.6" y1="546.5" x2="1171.3" y2="546.5" stroke-width="1.0" />
<polygon points="1148.6,546.4 1155.6,544.8 1155.6,548.0" fill="#000" stroke="none"/>
<line x1="1224.8" y1="546.5" x2="1283.0" y2="546.5" stroke-width="1.0" />
<polygon points="1267.4,546.4 1260.4,544.8 1260.4,548.0" fill="#000" stroke="none"/>
<text x="1188.6" y="550.2" font-size="11.3" text-anchor="start" textLength="20.6" lengthAdjust="spacingAndGlyphs" >406</text>
<line x1="1134.7" y1="567.5" x2="1171.3" y2="567.5" stroke-width="1.0" />
<polygon points="1134.7,567.7 1141.7,566.1 1141.7,569.3" fill="#000" stroke="none"/>
<line x1="1224.8" y1="567.5" x2="1267.4" y2="567.5" stroke-width="1.0" />
<polygon points="1267.4,567.7 1260.4,566.1 1260.4,569.3" fill="#000" stroke="none"/>
<text x="1188.6" y="571.0" font-size="11.3" text-anchor="start" textLength="19.8" lengthAdjust="spacingAndGlyphs" >457</text>
<line x1="1113.8" y1="589.5" x2="1171.3" y2="589.5" stroke-width="1.0" />
<polygon points="1113.8,589.0 1120.8,587.4 1120.8,590.6" fill="#000" stroke="none"/>
<line x1="1224.8" y1="589.5" x2="1284.6" y2="589.5" stroke-width="1.0" />
<polygon points="1284.6,589.0 1277.6,587.4 1277.6,590.6" fill="#000" stroke="none"/>
<text x="1188.6" y="593.8" font-size="11.3" text-anchor="start" textLength="20.6" lengthAdjust="spacingAndGlyphs" >626</text>
<line x1="1018.9" y1="610.5" x2="1187.3" y2="610.5" stroke-width="1.0" />
<polygon points="1018.9,610.3 1025.9,608.7 1025.9,611.9" fill="#000" stroke="none"/>
<line x1="1236.8" y1="610.5" x2="1378.5" y2="610.5" stroke-width="1.0" />
<polygon points="1378.5,610.3 1371.5,608.7 1371.5,611.9" fill="#000" stroke="none"/>
<text x="1201.2" y="614.0" font-size="11.3" text-anchor="start" textLength="25.7" lengthAdjust="spacingAndGlyphs" >1274</text>
<line x1="1018.5" y1="484.0" x2="1018.5" y2="612.0" stroke-width="1.0" />
<line x1="1267.4" y1="546.5" x2="1283.0" y2="546.5" stroke-width="1.0" />

<line x1="1312.3" y1="546.5" x2="1332.0" y2="546.5" stroke-width="1.0" />
<polygon points="1332.0,546.4 1325.0,544.8 1325.0,548.0" fill="#000" stroke="none"/>
<text x="1287.5" y="550.4" font-size="11.3" text-anchor="start" textLength="20.8" lengthAdjust="spacingAndGlyphs" >216</text>
<line x1="1332.0" y1="546.5" x2="1388.4" y2="546.5" stroke-width="1.0" />
<polygon points="1333.6,546.4 1340.6,544.8 1340.6,548.0" fill="#000" stroke="none"/>
<polygon points="1377.7,546.4 1370.7,544.8 1370.7,548.0" fill="#000" stroke="none"/>
<text x="1391.5" y="550.3" font-size="11.3" text-anchor="start" textLength="19.6" lengthAdjust="spacingAndGlyphs" >170</text>
<text x="1413.8" y="556.0" font-size="8.5" text-anchor="start" textLength="16.0" lengthAdjust="spacingAndGlyphs" >-0.5</text>
<rect x="1414.2" y="553.2" width="3.4" height="1.9" fill="#000" stroke="none"/>
<path d="M1018.6,352 Q1018.8,345.6 1024.3,345.4 C1035,344.8 1050,341 1060.2,336.7 C1070,332.3 1080,327 1093.3,324.9 L1102.4,324.3" stroke-width="1.0" fill="none"/>
<path d="M1018.6,352 L1018.6,481 Q1018.8,487.4 1024.3,487.6 C1035,488.2 1050,492 1060.2,496.3 C1070,500.7 1080,506 1093.3,508.1 L1102.4,508.7" stroke-width="1.0" fill="none"/>
<line x1="1024.5" y1="345.4" x2="1024.5" y2="487.6" stroke-width="1.0" />
<line x1="1074.5" y1="331.6" x2="1074.5" y2="502.4" stroke-width="1.0" />
<line x1="1102.5" y1="324.3" x2="1102.5" y2="512.3" stroke-width="1.0" />
<g>
<path d="M1101.9,341.4 C1090,343 1080,348 1073,352 C1065,356 1056,360 1052,363 Q1050.5,365.2 1054.5,365 C1062,364.5 1070,360 1078.4,359.4 C1086,359 1094,361.5 1101.9,362.8" stroke-width="1.1" fill="#fff"/>
<path d="M1101.9,341.4 C1093,342.5 1085,345 1078,349" stroke-width="1.8" fill="none"/>
<path d="M1073,352.7 L1079.8,354.7 L1101.9,354.7 M1076.4,356.5 C1085,357 1094,358.5 1101.9,359.4" stroke-width="0.9" fill="none"/>
<circle cx="1095.2" cy="348.4" r="4.1" stroke-width="2.2" fill="#fff"/>
<rect x="1092" y="350.5" width="6.5" height="2" fill="#000" stroke="none"/>
</g>
<g transform="translate(0,833.2) scale(1,-1)">
<path d="M1101.9,341.4 C1090,343 1080,348 1073,352 C1065,356 1056,360 1052,363 Q1050.5,365.2 1054.5,365 C1062,364.5 1070,360 1078.4,359.4 C1086,359 1094,361.5 1101.9,362.8" stroke-width="1.1" fill="#fff"/>
<path d="M1101.9,341.4 C1093,342.5 1085,345 1078,349" stroke-width="1.8" fill="none"/>
<path d="M1073,352.7 L1079.8,354.7 L1101.9,354.7 M1076.4,356.5 C1085,357 1094,358.5 1101.9,359.4" stroke-width="0.9" fill="none"/>
<circle cx="1095.2" cy="348.4" r="4.1" stroke-width="2.2" fill="#fff"/>
<rect x="1092" y="350.5" width="6.5" height="2" fill="#000" stroke="none"/>
</g>
<line x1="1103.5" y1="324.3" x2="1103.5" y2="510.0" stroke-width="1.0" />
<polygon points="1104,326.3 1129,321.5 1129,325.9 1104,330.7" fill="#555" stroke="#000" stroke-width="1"/>
<rect x="1129" y="321" width="64" height="3.9" fill="#000" stroke="none"/>
<path d="M1193,321 Q1196,321.5 1196,325 L1196,331" stroke-width="1.0" fill="none"/>
<line x1="1129.0" y1="327.5" x2="1196.0" y2="327.5" stroke-width="1.0" />
<line x1="1147.8" y1="330.5" x2="1196.0" y2="330.5" stroke-width="1.0" />
<line x1="1104.0" y1="335.8" x2="1128.7" y2="330.4" stroke-width="1.0" />
<line x1="1104.0" y1="339.6" x2="1122.6" y2="336.5" stroke-width="1.0" />
<line x1="1104.0" y1="346.0" x2="1122.6" y2="344.0" stroke-width="1.0" />
<rect x="1102.5" y="348.5" width="17.0" height="11.0" rx="0" stroke-width="1.0"/>
<line x1="1103.0" y1="353.5" x2="1119.0" y2="353.5" stroke-width="1.0" />
<line x1="1103.0" y1="355.5" x2="1119.0" y2="355.5" stroke-width="1.0" />
<path d="M1151,334.5 L1207,334.5 Q1209.7,334.5 1209.7,337 L1209.7,342.2" stroke-width="1.0" fill="none"/>
<path d="M1218,342.2 L1218,337 Q1218,334.5 1221,334.5 L1268,334.5 L1293,339" stroke-width="1.0" fill="none"/>
<line x1="1152.0" y1="342.5" x2="1294.5" y2="342.5" stroke-width="1.0" />
<path d="M1224,359 L1224,345 Q1224,342.2 1227,342.2" stroke-width="0.9" fill="none"/>
<rect x="1159.5" y="349.5" width="32.0" height="10.0" rx="2" stroke-width="1.0"/>
<rect x="1251.5" y="342.5" width="17.0" height="16.0" rx="0" stroke-width="1.0"/>
<circle cx="1260.0" cy="351.0" r="2.8" stroke-width="1.0"/>
<line x1="1255.5" y1="351.5" x2="1264.5" y2="351.5" stroke-width="1.0" />
<line x1="1260.5" y1="346.5" x2="1260.5" y2="355.5" stroke-width="1.0" />
<line x1="1246.0" y1="346.0" x2="1248.0" y2="359.0" stroke-width="0.8" />
<line x1="1273.0" y1="346.0" x2="1275.0" y2="359.0" stroke-width="0.8" />
<line x1="1268.0" y1="342.2" x2="1293.0" y2="345.0" stroke-width="0.9" />
<line x1="1268.0" y1="346.5" x2="1293.0" y2="349.5" stroke-width="0.9" />
<rect x="1282.5" y="349.5" width="12.0" height="10.0" rx="0" stroke-width="0.9"/>
<ellipse cx="1137.6" cy="341" rx="15" ry="12.4" stroke-width="1.1" fill="#fff"/>
<ellipse cx="1137.3" cy="340.1" rx="8.6" ry="4.6" stroke-width="1.1"/>
<path d="M1129.5,343 Q1137.3,349 1145.5,343" stroke-width="0.9" fill="none"/>
<path d="M1129.5,349.5 Q1137.3,356.5 1145.5,349.5" stroke-width="0.9" fill="none"/>
<path d="M1129,341.5 Q1137.3,352 1145.5,349" stroke-width="0.9" fill="none"/>
<path d="M1145.5,341.5 Q1137.3,352 1129,349" stroke-width="0.9" fill="none"/>
<line x1="1127.3" y1="349.5" x2="1125.3" y2="359.0" stroke-width="1.0" />
<line x1="1147.2" y1="349.5" x2="1148.5" y2="359.0" stroke-width="1.0" />
<path d="M1185.7,266 L1185.7,261 Q1186,256.8 1191,256.8 L1292.5,256.8 Q1297.8,256.8 1297.8,261 L1297.8,266" stroke-width="1.2" fill="none"/>
<line x1="1188.0" y1="258.5" x2="1295.0" y2="258.5" stroke-width="0.8" stroke-dasharray="10 2"/>
<line x1="1185.7" y1="264.5" x2="1297.8" y2="264.5" stroke-width="1.0" />
<line x1="1185.7" y1="266.5" x2="1297.8" y2="266.5" stroke-width="1.0" />
<g>
<path d="M1185.7,266.8 L1185.7,306 Q1186.5,313 1192,315 L1201,316.5" stroke-width="1.1" fill="none"/>
<path d="M1187.3,266.8 L1187.3,306" stroke-width="0.8" fill="none"/>
<rect x="1188.8" y="270.3" width="7.3" height="3.1" fill="#444" stroke="#000" stroke-width="0.8"/>
<path d="M1196.1,273.4 L1195.6,305 Q1197,313 1201,316 M1188.8,273.4 L1188.8,296.8 Q1193,297.5 1194.8,303" stroke-width="0.9" fill="none"/>
</g>
<g transform="translate(2483.5,0) scale(-1,1)">
<path d="M1185.7,266.8 L1185.7,306 Q1186.5,313 1192,315 L1201,316.5" stroke-width="1.1" fill="none"/>
<path d="M1187.3,266.8 L1187.3,306" stroke-width="0.8" fill="none"/>
<rect x="1188.8" y="270.3" width="7.3" height="3.1" fill="#444" stroke="#000" stroke-width="0.8"/>
<path d="M1196.1,273.4 L1195.6,305 Q1197,313 1201,316 M1188.8,273.4 L1188.8,296.8 Q1193,297.5 1194.8,303" stroke-width="0.9" fill="none"/>
</g>
<circle cx="1218.1" cy="290.4" r="12.1" stroke-width="1.1"/>
<line x1="1203.8" y1="290.5" x2="1232.4" y2="290.5" stroke-width="1.0" />
<line x1="1218.5" y1="276.1" x2="1218.5" y2="304.7" stroke-width="1.0" />
<circle cx="1264.5" cy="290.4" r="12.1" stroke-width="1.1"/>
<line x1="1250.2" y1="290.5" x2="1278.8" y2="290.5" stroke-width="1.0" />
<line x1="1264.5" y1="276.1" x2="1264.5" y2="304.7" stroke-width="1.0" />
<rect x="1200.8" y="315" width="80.8" height="2" fill="#000" stroke="none"/>
<rect x="1200.8" y="318.2" width="80.8" height="1.8" fill="#000" stroke="none"/>
<line x1="1201.5" y1="319.0" x2="1201.5" y2="334.5" stroke-width="1.0" />
<line x1="1281.5" y1="319.0" x2="1281.5" y2="334.5" stroke-width="1.0" />
<path d="M1283,323 L1290,323 Q1293,324 1293,327 L1293,339" stroke-width="0.8" fill="none"/>
<line x1="1283.0" y1="327.0" x2="1293.0" y2="328.0" stroke-width="0.8" />
<line x1="1283.0" y1="331.0" x2="1293.0" y2="332.0" stroke-width="0.8" />
<line x1="1104.0" y1="359.5" x2="1128.5" y2="359.5" stroke-width="1.0" />
<line x1="1130.0" y1="359.5" x2="1294.5" y2="359.5" stroke-width="1.0" />
<line x1="1104.0" y1="362.5" x2="1294.5" y2="362.5" stroke-width="1.0" />
<line x1="1104.0" y1="367.5" x2="1128.5" y2="367.5" stroke-width="1.0" />
<line x1="1130.0" y1="367.5" x2="1294.5" y2="367.5" stroke-width="1.0" />
<line x1="1104.0" y1="370.5" x2="1294.5" y2="370.5" stroke-width="1.0" />
<line x1="1104.0" y1="375.5" x2="1128.5" y2="375.5" stroke-width="1.0" />
<line x1="1130.0" y1="375.5" x2="1294.5" y2="375.5" stroke-width="1.0" />
<line x1="1104.0" y1="378.5" x2="1294.5" y2="378.5" stroke-width="1.0" />
<line x1="1104.0" y1="383.5" x2="1128.5" y2="383.5" stroke-width="1.0" />
<line x1="1130.0" y1="383.5" x2="1294.5" y2="383.5" stroke-width="1.0" />
<line x1="1104.0" y1="386.5" x2="1294.5" y2="386.5" stroke-width="1.0" />
<line x1="1104.0" y1="391.5" x2="1128.5" y2="391.5" stroke-width="1.0" />
<line x1="1130.0" y1="391.5" x2="1294.5" y2="391.5" stroke-width="1.0" />
<line x1="1104.0" y1="394.5" x2="1294.5" y2="394.5" stroke-width="1.0" />
<line x1="1104.0" y1="399.5" x2="1128.5" y2="399.5" stroke-width="1.0" />
<line x1="1130.0" y1="399.5" x2="1294.5" y2="399.5" stroke-width="1.0" />
<line x1="1104.0" y1="402.5" x2="1294.5" y2="402.5" stroke-width="1.0" />
<line x1="1104.0" y1="407.5" x2="1128.5" y2="407.5" stroke-width="1.0" />
<line x1="1130.0" y1="407.5" x2="1294.5" y2="407.5" stroke-width="1.0" />
<line x1="1104.0" y1="410.5" x2="1294.5" y2="410.5" stroke-width="1.0" />
<line x1="1120.0" y1="415.5" x2="1294.5" y2="415.5" stroke-width="1.0" />
<line x1="1120.0" y1="418.5" x2="1294.5" y2="418.5" stroke-width="1.0" />
<line x1="1104.0" y1="423.5" x2="1128.5" y2="423.5" stroke-width="1.0" />
<line x1="1130.0" y1="423.5" x2="1294.5" y2="423.5" stroke-width="1.0" />
<line x1="1104.0" y1="426.5" x2="1294.5" y2="426.5" stroke-width="1.0" />
<line x1="1104.0" y1="431.5" x2="1128.5" y2="431.5" stroke-width="1.0" />
<line x1="1130.0" y1="431.5" x2="1294.5" y2="431.5" stroke-width="1.0" />
<line x1="1104.0" y1="434.5" x2="1294.5" y2="434.5" stroke-width="1.0" />
<line x1="1104.0" y1="439.5" x2="1128.5" y2="439.5" stroke-width="1.0" />
<line x1="1130.0" y1="439.5" x2="1294.5" y2="439.5" stroke-width="1.0" />
<line x1="1104.0" y1="442.5" x2="1294.5" y2="442.5" stroke-width="1.0" />
<line x1="1104.0" y1="447.5" x2="1128.5" y2="447.5" stroke-width="1.0" />
<line x1="1130.0" y1="447.5" x2="1294.5" y2="447.5" stroke-width="1.0" />
<line x1="1104.0" y1="450.5" x2="1294.5" y2="450.5" stroke-width="1.0" />
<line x1="1104.0" y1="455.5" x2="1128.5" y2="455.5" stroke-width="1.0" />
<line x1="1130.0" y1="455.5" x2="1294.5" y2="455.5" stroke-width="1.0" />
<line x1="1104.0" y1="458.5" x2="1294.5" y2="458.5" stroke-width="1.0" />
<line x1="1104.0" y1="463.5" x2="1128.5" y2="463.5" stroke-width="1.0" />
<line x1="1130.0" y1="463.5" x2="1294.5" y2="463.5" stroke-width="1.0" />
<line x1="1104.0" y1="466.5" x2="1294.5" y2="466.5" stroke-width="1.0" />
<line x1="1104.0" y1="465.5" x2="1294.5" y2="465.5" stroke-width="1.0" />
<path d="M1108,410.5 Q1104,416 1108,421.5" stroke-width="0.9" fill="none"/>
<path d="M1118,410.5 Q1122,416 1118,421.5" stroke-width="0.9" fill="none"/>
<path d="M1280,410.5 Q1276,416 1280,421.5" stroke-width="0.9" fill="none"/>
<path d="M1290,410.5 Q1294,416 1290,421.5" stroke-width="0.9" fill="none"/>
<rect x="1128" y="415.2" width="55" height="1.8" fill="#000" stroke="none"/>
<rect x="1215" y="415.2" width="55" height="1.8" fill="#000" stroke="none"/>
<line x1="1119.5" y1="360.0" x2="1119.5" y2="375.0" stroke-width="1.0" />
<line x1="1268.5" y1="360.0" x2="1268.5" y2="465.0" stroke-width="0.6" />
<line x1="1129.5" y1="360.0" x2="1129.5" y2="465.0" stroke-width="0.6" />
<line x1="1119.5" y1="455.0" x2="1119.5" y2="465.0" stroke-width="1.0" />
<line x1="1157.5" y1="361.5" x2="1157.5" y2="367.3" stroke-width="0.8" />
<line x1="1158.5" y1="361.5" x2="1158.5" y2="367.3" stroke-width="0.8" />
<line x1="1177.5" y1="361.5" x2="1177.5" y2="367.3" stroke-width="0.8" />
<line x1="1178.5" y1="361.5" x2="1178.5" y2="367.3" stroke-width="0.8" />
<line x1="1103.4" y1="465.5" x2="1294.5" y2="465.5" stroke-width="1.0" />
<path d="M1120.4,466 L1120.4,493 Q1120.4,496 1123,496 L1157.5,496 Q1160.3,496 1160.3,493 L1160.3,468.5 Q1160.3,466 1157.5,466" stroke-width="1.0" fill="none"/>
<line x1="1120.4" y1="474.5" x2="1160.3" y2="474.5" stroke-width="1.0" />
<path d="M1238,466 L1238,493 Q1238,496 1241,496 L1274.5,496 Q1277.2,496 1277.2,493 L1277.2,468.5 Q1277.2,466 1274.5,466" stroke-width="1.0" fill="none"/>
<line x1="1238.0" y1="474.5" x2="1277.2" y2="474.5" stroke-width="1.0" />
<line x1="1120.5" y1="456.4" x2="1120.5" y2="496.0" stroke-width="1.0" />
<line x1="1277.5" y1="465.5" x2="1277.5" y2="496.0" stroke-width="1.0" />
<rect x="1180.3" y="466.7" width="37.8" height="10.3" rx="1.5" fill="#fff" stroke-width="1.8"/>
<rect x="1182.5" y="469.5" width="5" height="4.5" fill="#222" stroke="none"/>
<rect x="1211" y="469.5" width="5.5" height="4.5" fill="#222" stroke="none"/>
<rect x="1197.5" y="469.5" width="4" height="4.5" fill="#444" stroke="none"/>
<circle cx="1193.3" cy="471.5" r="4.6" fill="#fff" stroke-width="1"/>
<line x1="1188.7" y1="471.5" x2="1197.9" y2="471.5" stroke-width="0.8" />
<line x1="1193.5" y1="466.9" x2="1193.5" y2="476.1" stroke-width="0.8" />
<circle cx="1205.7" cy="471.5" r="4.6" fill="#fff" stroke-width="1"/>
<line x1="1201.1" y1="471.5" x2="1210.3" y2="471.5" stroke-width="0.8" />
<line x1="1205.5" y1="466.9" x2="1205.5" y2="476.1" stroke-width="0.8" />
<rect x="1183" y="479.8" width="31.7" height="13.7" rx="6.8" stroke-width="1.0"/>
<rect x="1113.5" y="496.5" width="52.0" height="14.0" rx="0" stroke-width="1.1"/>
<rect x="1165.5" y="496.5" width="66.0" height="12.0" rx="0" stroke-width="1.0"/>
<rect x="1231.5" y="496.5" width="53.0" height="14.0" rx="0" stroke-width="1.1"/>
<line x1="1130.5" y1="497.0" x2="1130.5" y2="501.8" stroke-width="1.0" />
<line x1="1130.5" y1="505.4" x2="1130.5" y2="510.0" stroke-width="1.0" />
<line x1="1138.5" y1="497.0" x2="1138.5" y2="501.8" stroke-width="1.0" />
<line x1="1138.5" y1="505.4" x2="1138.5" y2="510.0" stroke-width="1.0" />
<line x1="1144.5" y1="497.0" x2="1144.5" y2="501.8" stroke-width="1.0" />
<line x1="1144.5" y1="505.4" x2="1144.5" y2="510.0" stroke-width="1.0" />
<line x1="1152.5" y1="497.0" x2="1152.5" y2="501.8" stroke-width="1.0" />
<line x1="1152.5" y1="505.4" x2="1152.5" y2="510.0" stroke-width="1.0" />
<line x1="1263.5" y1="497.0" x2="1263.5" y2="501.8" stroke-width="1.0" />
<line x1="1263.5" y1="505.4" x2="1263.5" y2="510.0" stroke-width="1.0" />
<line x1="1271.5" y1="497.0" x2="1271.5" y2="501.8" stroke-width="1.0" />
<line x1="1271.5" y1="505.4" x2="1271.5" y2="510.0" stroke-width="1.0" />
<line x1="1134.5" y1="494.0" x2="1134.5" y2="512.7" stroke-width="1.0" />
<line x1="1148.5" y1="494.0" x2="1148.5" y2="512.7" stroke-width="1.0" />
<line x1="1267.5" y1="494.0" x2="1267.5" y2="512.7" stroke-width="1.0" />
<line x1="1103.4" y1="479.5" x2="1120.4" y2="479.5" stroke-width="1.0" />
<line x1="1103.4" y1="481.5" x2="1120.4" y2="481.5" stroke-width="1.0" />
<path d="M1104,483 L1106,503 Q1108,506 1113.6,506" stroke-width="0.8" fill="none"/>
<path d="M1109,485 L1110,500" stroke-width="0.8" fill="none"/>
<path d="M1294,483 L1292,503 Q1290,506 1284.1,506" stroke-width="0.8" fill="none"/>
<path d="M1289,485 L1288,500" stroke-width="0.8" fill="none"/>
<line x1="1277.2" y1="479.5" x2="1294.5" y2="479.5" stroke-width="1.0" />
<line x1="1277.2" y1="481.5" x2="1294.5" y2="481.5" stroke-width="1.0" />
<rect x="1293.6" y="334.5" width="2.2" height="162" fill="#000" stroke="none"/>
<path d="M1295.8,336.5 L1305,336.5 Q1312,337 1314.2,350 L1314.2,484 Q1312,496.5 1305,497.5 L1295.8,497.5" stroke-width="1.1" fill="none"/>
<line x1="1307.5" y1="340.0" x2="1307.5" y2="494.0" stroke-width="1.0" />
<rect x="1296.5" y="349.5" width="11.0" height="29.0" rx="0" stroke-width="1.0"/>
<rect x="1296.5" y="455.5" width="11.0" height="33.0" rx="0" stroke-width="1.0"/>
<rect x="1295.8" y="347.5" width="11.5" height="2.2" fill="#000" stroke="none"/>
<rect x="1295.8" y="485.5" width="11.5" height="2.2" fill="#000" stroke="none"/>
<rect x="1307.5" y="350.5" width="5.0" height="11.0" rx="0" stroke-width="1.0"/>
<rect x="1307.5" y="473.5" width="5.0" height="10.0" rx="0" stroke-width="1.0"/>
<path d="M1313.5,362 L1318.4,380.6" stroke-width="1.0" fill="none"/>
<path d="M1313.5,470 L1318.4,452" stroke-width="1.0" fill="none"/>
<rect x="1318.5" y="380.5" width="4.0" height="72.0" rx="0" stroke-width="1.0"/>
<path d="M1322,386 C1325,395 1327,405 1327,416 C1327,427 1325,437 1322,446 Z" fill="#777" stroke="#000" stroke-width="1"/>
<line x1="1322.5" y1="392.5" x2="1326.0" y2="392.5" stroke-width="1.0" />
<line x1="1322.5" y1="399.5" x2="1326.0" y2="399.5" stroke-width="1.0" />
<line x1="1322.5" y1="406.5" x2="1326.0" y2="406.5" stroke-width="1.0" />
<line x1="1322.5" y1="413.5" x2="1326.0" y2="413.5" stroke-width="1.0" />
<line x1="1322.5" y1="420.5" x2="1326.0" y2="420.5" stroke-width="1.0" />
<line x1="1322.5" y1="428.5" x2="1326.0" y2="428.5" stroke-width="1.0" />
<line x1="1322.5" y1="435.5" x2="1326.0" y2="435.5" stroke-width="1.0" />
<line x1="1322.5" y1="442.5" x2="1326.0" y2="442.5" stroke-width="1.0" />
<rect x="1322.5" y="388.5" width="3.0" height="4.0" rx="0" stroke-width="1.0"/>
<rect x="1322.5" y="440.5" width="3.0" height="4.0" rx="0" stroke-width="1.0"/>
<path d="M1314.2,392.8 L1314.2,394.5 Q1315.3,395.8 1316.4,394.5 L1316.4,392.8" stroke-width="0.8" fill="none"/>
<path d="M1314.2,401.3 L1314.2,403.0 Q1315.3,404.3 1316.4,403.0 L1316.4,401.3" stroke-width="0.8" fill="none"/>
<path d="M1314.2,409.8 L1314.2,411.5 Q1315.3,412.8 1316.4,411.5 L1316.4,409.8" stroke-width="0.8" fill="none"/>
<path d="M1314.2,418.3 L1314.2,420.0 Q1315.3,421.3 1316.4,420.0 L1316.4,418.3" stroke-width="0.8" fill="none"/>
<path d="M1314.2,427.5 L1314.2,429.2 Q1315.3,430.5 1316.4,429.2 L1316.4,427.5" stroke-width="0.8" fill="none"/>
<path d="M1314.2,436.6 L1314.2,438.3 Q1315.3,439.6 1316.4,438.3 L1316.4,436.6" stroke-width="0.8" fill="none"/>
<rect x="1326.5" y="402.5" width="6.0" height="29.0" rx="0" stroke-width="1.0"/>
<path d="M1332.8,405.4 L1377,405.4 Q1378.5,405.4 1378.5,407 L1378.5,427 Q1378.5,428.5 1377,428.5 L1332.8,428.5" stroke-width="1.1" fill="none"/>
<rect x="1377.3" y="405.4" width="1.8" height="23.1" fill="#000" stroke="none"/>
<path d="M1378.5,413.4 L1339.5,413.4 Q1336.3,413.4 1336.3,417 Q1336.3,420.5 1339.5,420.5 L1378.5,420.5" stroke-width="1.0" fill="none"/>
<line x1="1342.9" y1="416.5" x2="1408.8" y2="416.5" stroke-width="1.0" />
<line x1="1009.0" y1="416.5" x2="1074.6" y2="416.5" stroke-width="1.0" />
</g>
</svg>
</body></html>
